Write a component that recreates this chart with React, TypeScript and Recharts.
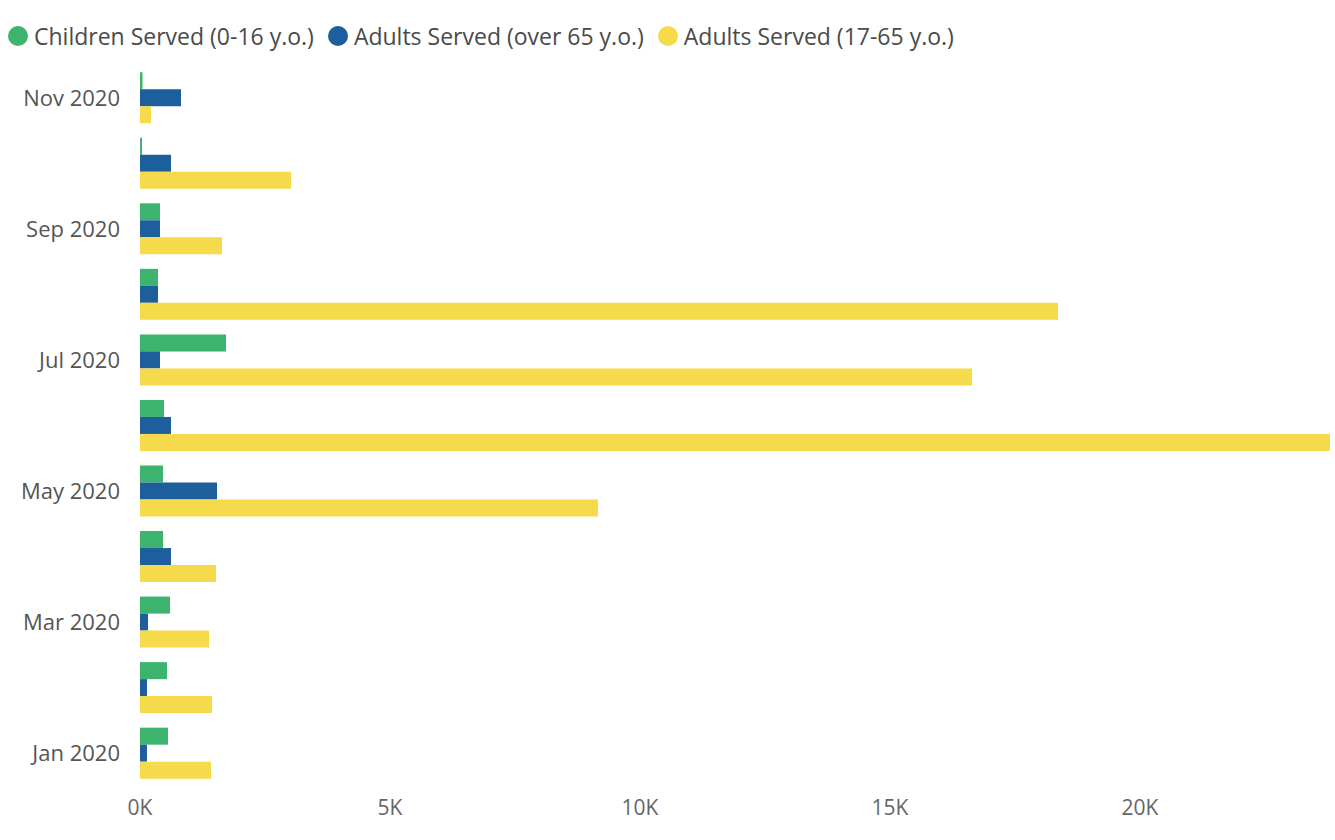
import React from 'react';
import { BarChart, Bar, XAxis, YAxis, Legend } from 'recharts';

const MONTHS = [
  'Jan 2020', 'Feb 2020', 'Mar 2020', 'Apr 2020', 'May 2020', 'Jun 2020',
  'Jul 2020', 'Aug 2020', 'Sep 2020', 'Oct 2020', 'Nov 2020',
];
const CHILDREN = [560, 540, 600, 460, 460, 480, 1720, 360, 400, 40, 50];
const OVER_65 = [140, 140, 160, 620, 1540, 620, 400, 360, 400, 620, 820];
const ADULTS = [1420, 1440, 1380, 1520, 9160, 23800, 16640, 18360, 1640, 3020, 220];
const X_TICKS = [0, 5000, 10000, 15000, 20000];

const SERIES = [
  { key: 'children', name: 'Children Served (0-16 y.o.)', color: '#3db46d' },
  { key: 'over65', name: 'Adults Served (over 65 y.o.)', color: '#1d5e9c' },
  { key: 'adults', name: 'Adults Served (17-65 y.o.)', color: '#f5da4b' },
];

const FONT = '"Open Sans", "Noto Sans", sans-serif';

const data = MONTHS.map((month, i) => ({
  month,
  children: CHILDREN[i],
  over65: OVER_65[i],
  adults: ADULTS[i],
}));

function LegendRow() {
  return (
    <div style={{ display: 'flex', alignItems: 'center', fontFamily: FONT, fontSize: 23, color: '#4a4a4a' }}>
      {SERIES.map((s) => (
        <div key={s.key} style={{ display: 'flex', alignItems: 'center', marginRight: 14 }}>
          <span
            style={{
              width: 20,
              height: 20,
              borderRadius: '50%',
              background: s.color,
              display: 'inline-block',
              marginRight: 6,
            }}
          />
          <span>{s.name}</span>
        </div>
      ))}
    </div>
  );
}

export default function App() {
  return (
    <div style={{ position: 'absolute', left: 0, top: 0, background: '#fff' }}>
      <BarChart
        width={1335}
        height={840}
        data={data}
        layout="vertical"
        margin={{ top: 33, right: 0, bottom: 14, left: 0 }}
        barCategoryGap="11%"
        barGap={0}
      >
        <Legend
          verticalAlign="top"
          align="left"
          content={() => <LegendRow />}
          wrapperStyle={{ top: 20, left: 8 }}
        />
        <XAxis
          type="number"
          domain={[0, 23900]}
          ticks={X_TICKS}
          tickFormatter={(v: number) => `${v / 1000}K`}
          axisLine={false}
          tickLine={false}
          tickSize={0}
          tickMargin={14}
          tick={{ fill: '#666', fontSize: 21, fontFamily: FONT }}
          height={40}
        />
        <YAxis
          type="category"
          dataKey="month"
          reversed
          interval={1}
          width={140}
          axisLine={false}
          tickLine={false}
          tickSize={0}
          tickMargin={20}
          tick={{ fill: '#555', fontSize: 22, fontFamily: FONT }}
        />
        {SERIES.map((s) => (
          <Bar key={s.key} dataKey={s.key} name={s.name} fill={s.color} isAnimationActive={false} />
        ))}
      </BarChart>
    </div>
  );
}
